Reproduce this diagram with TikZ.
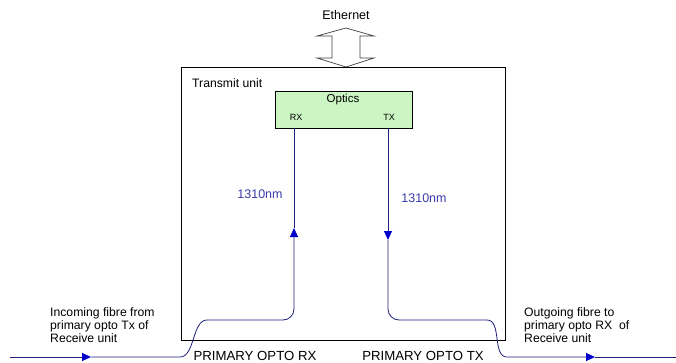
\documentclass[tikz,border=0pt]{standalone}
\usepackage{fontspec}
\setmainfont{Liberation Sans}
\usetikzlibrary{arrows.meta}
\definecolor{fib}{HTML}{20207A}
\definecolor{arr}{HTML}{0000CC}
\definecolor{lbl}{HTML}{3A3AA8}
\definecolor{opt}{HTML}{CCF5C4}
\tikzset{
  fibre/.style={draw=fib, line width=0.8pt},
  tipend/.style={-{Triangle[length=9pt,width=8pt,color=arr]}},
  txt/.style={font=\fontsize{12.2}{13}\selectfont, inner sep=0pt},
  big/.style={font=\fontsize{13.2}{14}\selectfont, inner sep=0pt},
  tiny/.style={font=\fontsize{9}{10}\selectfont, inner sep=0pt},
  wl/.style={font=\fontsize{12.5}{14}\selectfont, inner sep=0pt, text=lbl},
}
\begin{document}
\begin{tikzpicture}[x=1pt,y=-1pt]
\useasboundingbox (0,0) rectangle (676,363);
% Ethernet
\node[font=\fontsize{12.5}{14}\selectfont, inner sep=0pt] (eth) at (346,15) {Ethernet};
\draw[black!75, fill=white, line width=0.7pt] (346,28) -- (374,36) -- (360,36) -- (360,58) -- (374,58) -- (346,67) -- (317,58) -- (332,58) -- (332,36) -- (317,36) -- cycle;
% Transmit unit box
\node[draw, line width=0.7pt, minimum width=324pt, minimum height=273pt, anchor=north west, inner sep=0pt] (tu) at (181,67) {};
\node[txt, anchor=west] (tul) at (192,83) {Transmit unit};
% Optics
\node[draw, line width=0.7pt, fill=opt, minimum width=137pt, minimum height=37pt, anchor=north west, inner sep=0pt] (opt) at (275,91) {};
\node[font=\fontsize{11.5}{13}\selectfont, inner sep=0pt] (optl) at (343,100) {Optics};
\node[tiny] (rx) at (296,117) {RX};
\node[tiny] (tx) at (389,117) {TX};
% coordinates
\coordinate (in0) at (10,357);
\coordinate (inA) at (91,357);
\coordinate (inB) at (180,357);
\coordinate (inC) at (207,320);
\coordinate (rxk) at (294,320);
\coordinate (rxA) at (294,228);
\coordinate (rxt) at (294,128);
\coordinate (txt0) at (388,128);
\coordinate (txA) at (388,240);
\coordinate (txk) at (388,320);
\coordinate (outC) at (487,320);
\coordinate (outB) at (507,357);
\coordinate (outA) at (595,357);
\coordinate (out0) at (676,357);
% RX fibre
\draw[fibre, tipend] (in0) -- (inA);
\draw[fibre] (inA) -- (inB) .. controls (195,357) and (192,320) .. (inC);
\draw[fibre, rounded corners=11pt, tipend] (inC) -- (rxk) -- (rxA);
\draw[fibre] (rxA) -- (rxt);
% TX fibre
\draw[fibre, tipend] (txt0) -- (txA);
\draw[fibre, rounded corners=11pt] (txA) -- (txk) -- (outC);
\draw[fibre, tipend] (outC) .. controls (502,320) and (492,357) .. (outB) -- (outA);
\draw[fibre] (outA) -- (out0);
% labels
\node[wl] (w1) at (260,194) {1310nm};
\node[wl] (w2) at (424,198) {1310nm};
\node[txt, align=left, anchor=west] (inl) at (50,325) {Incoming fibre from\\primary opto Tx of\\Receive unit};
\node[txt, align=left, anchor=west] (outl) at (524,325) {Outgoing fibre to\\primary opto RX\ \ of\\Receive unit};
\node[big] (prx) at (255,356) {PRIMARY OPTO RX};
\node[big] (ptx) at (423,356) {PRIMARY OPTO TX};
\end{tikzpicture}
\end{document}
